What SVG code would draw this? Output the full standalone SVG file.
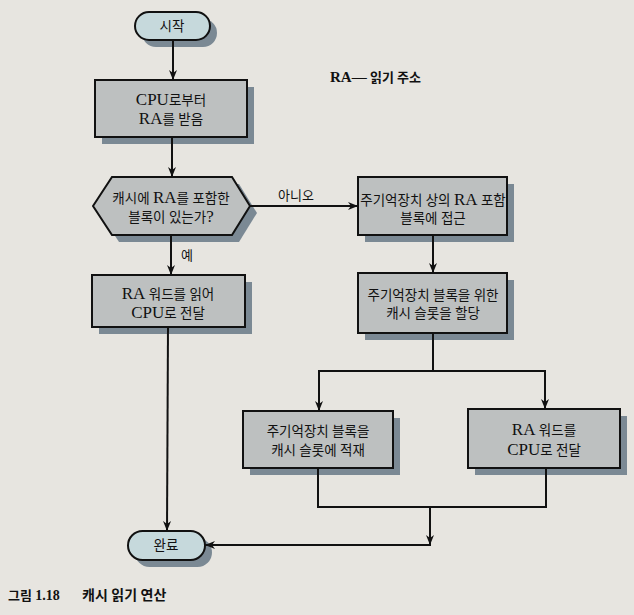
<svg xmlns="http://www.w3.org/2000/svg" width="634" height="615" viewBox="0 0 634 615">
<style>
.box{fill:#bdc0c0;stroke:#111;stroke-width:2}
.term{fill:#c6d9dc;stroke:#111;stroke-width:2}
.sh{fill:#7b8994}
.t{font-family:"Liberation Serif","Noto Sans CJK KR",serif;font-size:13.5px;fill:#111;text-anchor:middle}
.L{font-size:17px}
.lbl{font-family:"Liberation Serif","Noto Sans CJK KR",serif;font-size:13px;fill:#111}
.cap{font-family:"Liberation Serif","Noto Sans CJK KR",serif;font-weight:bold;fill:#111}
.ln{fill:none;stroke:#111;stroke-width:2}
</style>
<defs>
<marker id="ah" viewBox="0 0 10 10" refX="10" refY="5" markerWidth="10" markerHeight="10" markerUnits="userSpaceOnUse" orient="auto">
<path d="M0,1 L10,5 L0,9 L3,5 Z" fill="#111"/>
</marker>
</defs>
<rect x="0" y="0" width="634" height="615" fill="#e7e5e0"/>

<g id="start">
<rect class="sh" x="142" y="19" width="75" height="28" rx="14"/>
<rect class="term" x="135" y="12" width="75" height="28" rx="14"/>
<text class="t" x="172" y="31">시작</text>
</g>

<g id="receive">
<rect class="sh" x="102" y="87" width="152" height="57"/>
<rect class="box" x="95" y="80" width="152" height="57"/>
<text class="t" x="171" y="105"><tspan class="L">CPU</tspan>로부터</text>
<text class="t" x="171" y="124"><tspan class="L">RA</tspan>를 받음</text>
</g>

<g id="decision">
<polygon class="sh" points="100,213 119,184 239,184 257,213 239,242 119,242"/>
<polygon class="box" points="93,206 112,177 232,177 250,206 232,235 112,235"/>
<text class="t" x="171" y="203">캐시에 <tspan class="L">RA</tspan>를 포함한</text>
<text class="t" x="171" y="222">블록이 있는가<tspan class="L">?</tspan></text>
</g>

<g id="access">
<rect class="sh" x="365" y="184" width="149" height="58"/>
<rect class="box" x="358" y="177" width="149" height="58"/>
<text class="t" x="433" y="205">주기억장치 상의 <tspan class="L">RA</tspan> 포함</text>
<text class="t" x="433" y="223">블록에 접근</text>
</g>

<g id="deliver1">
<rect class="sh" x="99" y="282" width="153" height="52"/>
<rect class="box" x="92" y="275" width="153" height="52"/>
<text class="t" x="168" y="299"><tspan class="L">RA</tspan> 워드를 읽어</text>
<text class="t" x="168" y="318"><tspan class="L">CPU</tspan>로 전달</text>
</g>

<g id="allocate">
<rect class="sh" x="365" y="280" width="149" height="60"/>
<rect class="box" x="358" y="273" width="149" height="60"/>
<text class="t" x="433" y="300">주기억장치 블록을 위한</text>
<text class="t" x="433" y="318">캐시 슬롯을 할당</text>
</g>

<g id="load">
<rect class="sh" x="250" y="418" width="150" height="57"/>
<rect class="box" x="243" y="411" width="150" height="57"/>
<text class="t" x="318" y="436">주기억장치 블록을</text>
<text class="t" x="318" y="455">캐시 슬롯에 적재</text>
</g>

<g id="deliver2">
<rect class="sh" x="475" y="416" width="152" height="59"/>
<rect class="box" x="468" y="409" width="152" height="59"/>
<text class="t" x="544" y="435"><tspan class="L">RA</tspan> 워드를</text>
<text class="t" x="544" y="455"><tspan class="L">CPU</tspan>로 전달</text>
</g>

<g id="done">
<rect class="sh" x="135" y="538" width="77" height="29" rx="14.5"/>
<rect class="term" x="128" y="531" width="77" height="29" rx="14.5"/>
<text class="t" x="166" y="550">완료</text>
</g>

<g id="connectors">
<line class="ln" x1="173" y1="40" x2="173" y2="80" marker-end="url(#ah)"/>
<line class="ln" x1="172" y1="137" x2="172" y2="177" marker-end="url(#ah)"/>
<line class="ln" x1="250" y1="206" x2="358" y2="206" marker-end="url(#ah)"/>
<line class="ln" x1="171" y1="235" x2="171" y2="275" marker-end="url(#ah)"/>
<line class="ln" x1="168" y1="327" x2="167" y2="531" marker-end="url(#ah)"/>
<line class="ln" x1="433" y1="235" x2="433" y2="273" marker-end="url(#ah)"/>
<line class="ln" x1="433" y1="333" x2="433" y2="371"/>
<line class="ln" x1="318" y1="371" x2="546" y2="371"/>
<line class="ln" x1="319" y1="370" x2="319" y2="411" marker-end="url(#ah)"/>
<line class="ln" x1="545" y1="370" x2="545" y2="409" marker-end="url(#ah)"/>
<line class="ln" x1="318" y1="468" x2="318" y2="508"/>
<line class="ln" x1="546" y1="468" x2="546" y2="508"/>
<line class="ln" x1="317" y1="507" x2="547" y2="507"/>
<line class="ln" x1="430" y1="507" x2="430" y2="545" marker-end="url(#ah)"/>
<line class="ln" x1="431" y1="545" x2="205" y2="545" marker-end="url(#ah)"/>
<text class="lbl" x="278" y="200">아니오</text>
<text class="lbl" x="181" y="260">예</text>
</g>

<text class="lbl" x="330" y="82" font-weight="bold"><tspan font-size="15px">RA—</tspan> 읽기 주소</text>
<text class="cap" x="8" y="600" font-size="13px">그림 <tspan font-size="14px">1.18</tspan></text>
<text class="cap" x="82" y="600" font-size="14px">캐시 읽기 연산</text>
</svg>
